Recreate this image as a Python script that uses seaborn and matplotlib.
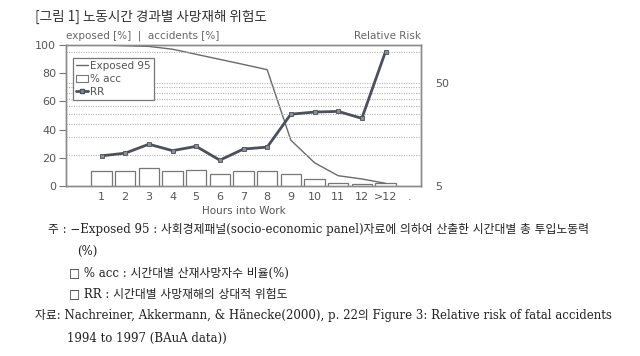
import matplotlib
matplotlib.use("Agg")
import matplotlib.pyplot as plt
import seaborn as sns
import pandas as pd
import numpy as np
from matplotlib.lines import Line2D
from matplotlib.patches import Patch

# ---- data ----
slots = ["", "1", "2", "3", "4", "5", "6", "7", "8", "9", "10", "11", "12", ">12", "."]
hours = ["1", "2", "3", "4", "5", "6", "7", "8", "9", "10", "11", "12", ">12"]
exposed_slots = ["", "1", "2", "3", "4", "5", "6", "7", "8", "9", "10", "11", "12", ">12"]
exposed95 = [100, 100, 99.5, 99, 97, 93.4, 89.8, 86.2, 82.5, 32.5, 16.5, 7.3, 5.0, 1.9]
acc_pct = [10.4, 10.6, 12.7, 10.6, 11.6, 8.3, 10.4, 10.4, 8.5, 4.7, 2.4, 1.4, 2.4]
rr = [9.8, 10.4, 12.7, 11.0, 12.1, 8.9, 11.4, 11.9, 24.8, 26.0, 26.4, 22.6, 100]
left_ticks = [0, 20, 40, 60, 80, 100]
right_ticks = [5, 50]
right_grid = [10, 15, 20, 25, 30, 35, 40, 45, 100]

title = "[그림 1] 노동시간 경과별 사망재해 위험도"
notes = [
    (48, 229, "주 : −Exposed 95 : 사회경제패널(socio-economic panel)자료에 의하여 산출한 시간대별 총 투입노동력"),
    (77, 251, "(%)"),
    (69, 273, "□ % acc : 시간대별 산재사망자수 비율(%)"),
    (69, 294, "□ RR : 시간대별 사망재해의 상대적 위험도"),
    (35, 316, "자료: Nachreiner, Akkermann, & Hänecke(2000), p. 22의 Figure 3: Relative risk of fatal accidents"),
    (67, 338, "1994 to 1997 (BAuA data))"),
]

sns.set_theme(style="white")
plt.rcParams["font.family"] = ["DejaVu Sans", "Noto Sans CJK KR"]

W, H = 640, 356
fig = plt.figure(figsize=(W / 100, H / 100), dpi=100)
ax = fig.add_axes([66 / W, 1 - 186 / H, (421 - 66) / W, (186 - 45) / H])

pos = {s: i for i, s in enumerate(slots)}
df_acc = pd.DataFrame({"hour": hours, "acc": acc_pct})
df_exp = pd.DataFrame({"x": [pos[s] for s in exposed_slots], "exp": exposed95})
df_rr = pd.DataFrame({"x": [pos[h] for h in hours], "rr": rr})

sns.barplot(data=df_acc, x="hour", y="acc", order=slots, ax=ax, color="white",
            edgecolor="#777777", linewidth=0.9, width=0.86, saturation=1, zorder=3)
sns.lineplot(data=df_exp, x="x", y="exp", ax=ax, color="#6a6a6a", linewidth=1.0,
             zorder=4, legend=False)

ax.set_xlim(-0.5, len(slots) - 0.5)
ax.set_ylim(0, 100)
ax.set_yticks(left_ticks)
ax.set_xticks(range(len(slots)))
ax.set_xticklabels(slots)
ax.tick_params(axis="y", direction="out", length=5, width=0.8, color="#777777",
               labelsize=8, labelcolor="#555555", pad=2, left=True)
ax.tick_params(axis="x", length=0, labelsize=8, labelcolor="#555555", pad=4)
ax.set_xlabel("Hours into Work", fontsize=7.5, color="#555555", labelpad=3)
ax.set_ylabel("")

ax2 = ax.twinx()
ax2.set_yscale("log")
ax2.set_ylim(5, 116)
sns.lineplot(data=df_rr, x="x", y="rr", ax=ax2, color="#4b505c", linewidth=2.0,
             marker="s", markersize=3.2, markerfacecolor="#8a8f99",
             markeredgecolor="#4b505c", markeredgewidth=0.6, zorder=5, legend=False)
ax2.set_xlim(-0.5, len(slots) - 0.5)
ax2.set_yticks(right_ticks)
ax2.set_yticklabels([str(t) for t in right_ticks])
ax2.set_yticks(right_grid, minor=True)
ax2.yaxis.set_minor_formatter(matplotlib.ticker.NullFormatter())
ax2.tick_params(axis="y", which="both", length=0, labelsize=8, labelcolor="#555555", pad=10)
ax2.set_ylabel("")
for g in right_grid + [50]:
    ax2.axhline(g, color="#b5b5b5", linestyle=(0, (1, 1.2)), linewidth=0.8, zorder=1)

for a in (ax, ax2):
    for sp in a.spines.values():
        sp.set_visible(True)
        sp.set_color("#8a8a8a")
        sp.set_linewidth(1.0)
ax.set_zorder(0)
ax2.set_zorder(1)
ax2.patch.set_visible(False)

handles = [
    Line2D([], [], color="#6a6a6a", linewidth=1.0),
    Patch(facecolor="white", edgecolor="#777777", linewidth=0.8),
    Line2D([], [], color="#4b505c", linewidth=2.0, marker="s", markersize=3,
           markerfacecolor="#8a8f99"),
]
leg = ax2.legend(handles, ["Exposed 95", "% acc", "RR"], loc="upper left",
                 bbox_to_anchor=(0.02, 0.91), fontsize=7.5, frameon=True,
                 fancybox=False, edgecolor="#777777", framealpha=1,
                 handlelength=1.1, handletextpad=0.2, labelspacing=0.3,
                 borderpad=0.3, borderaxespad=0)
leg.get_frame().set_linewidth(0.9)
for t in leg.get_texts():
    t.set_color("#555555")

fig.text(66 / W, 1 - 36 / H, "exposed [%]  |  accidents [%]", fontsize=7.5,
         color="#666666", ha="left", va="center")
fig.text(421 / W, 1 - 36 / H, "Relative Risk", fontsize=7.5, color="#666666",
         ha="right", va="center")
fig.text(35 / W, 1 - 17 / H, title, fontsize=9.8, color="#333333", ha="left",
         va="center", family=["Noto Sans CJK KR", "DejaVu Sans"])

for x, y, s in notes:
    fig.text(x / W, 1 - y / H, s, fontsize=8.5, color="#222222", ha="left",
             va="center", family=["DejaVu Serif", "Noto Sans CJK KR", "DejaVu Sans"])

fig.savefig("out.png", dpi=100)
